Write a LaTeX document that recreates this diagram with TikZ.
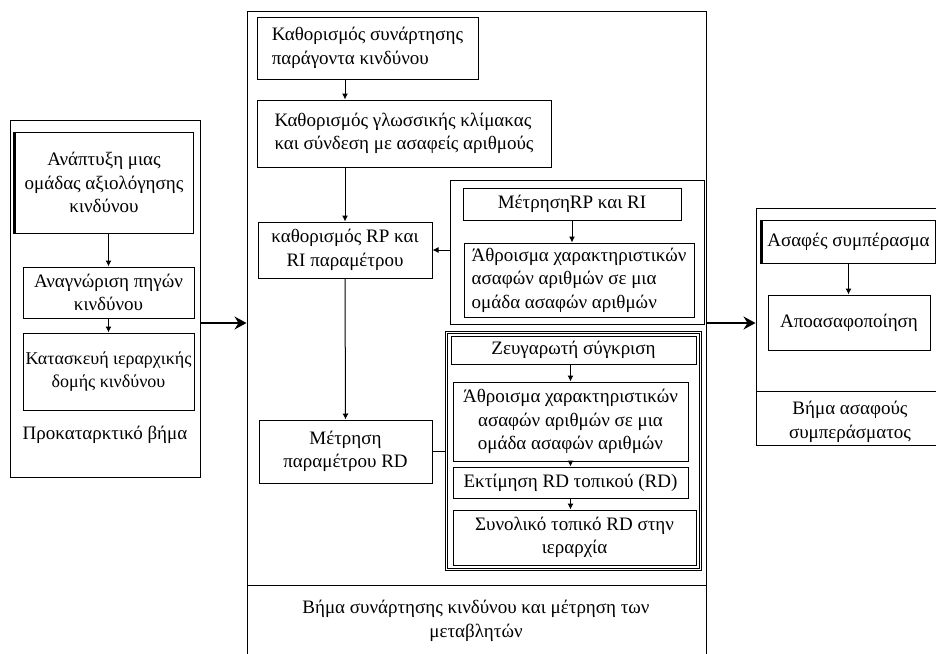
\documentclass[tikz,border=0pt]{standalone}
\usepackage{fontspec}
\setmainfont{Liberation Serif}
\usetikzlibrary{arrows.meta}

\tikzset{
  txt/.style={font=\fontsize{19}{23.5}\selectfont, inner sep=0pt, align=center},
  box/.style={txt, draw, line width=1pt},
  frame/.style={draw, line width=1pt, inner sep=0pt},
  arr/.style={line width=1pt, -{Latex[length=6pt,width=6pt]}},
  link/.style={line width=1pt},
  bigarr/.style={line width=1.8pt, -{Stealth[length=12pt,width=13pt,inset=4pt]}},
}

\begin{document}
\begin{tikzpicture}[x=1pt,y=-1pt]
\useasboundingbox[fill=white] (0,0) rectangle (936,653);

% ---- preliminary step ----
\node[frame, minimum width=190pt, minimum height=357pt] (L) at (105,298.5) {};
\node[box, minimum width=178pt, minimum height=101pt] (a1) at (104,182.5)
  {Ανάπτυξη μιας\\ομάδας αξιολόγησης\\κινδύνου};
\draw[line width=2.5pt] (a1.north west) -- (a1.south west);
\node[box, minimum width=171pt, minimum height=51pt] (a2) at (108.5,292.5)
  {Αναγνώριση πηγών\\κινδύνου};
\node[box, font=\fontsize{18}{23.5}\selectfont, minimum width=171pt, minimum height=77pt] (a3) at (108.5,371.5)
  {Κατασκευή ιεραρχικής\\δομής κινδύνου};
\node[txt] (Llab) at (105,435) {Προκαταρκτικό βήμα};
\draw[arr] (a1.south -| a2) -- (a2.north);
\draw[arr] (a2.south) -- (a3.north);

% ---- risk function and measurement step ----
\node[frame, minimum width=459pt, minimum height=649pt] (M) at (476.5,335.5) {};
\coordinate (Mdiv) at (247,585);
\draw[link] (Mdiv) -- (Mdiv -| M.east);
\node[txt] (Mlab) at (476,621) {Βήμα συνάρτησης κινδύνου και μέτρηση των\\μεταβλητών};

\node[box, align=left, minimum width=221pt, minimum height=62pt] (m1) at (367.5,48)
  {Καθορισμός συνάρτησης\\παράγοντα κινδύνου};
\node[box, align=left, minimum width=294pt, minimum height=67pt] (m2) at (404,133.5)
  {Καθορισμός γλωσσικής κλίμακας\\και σύνδεση με ασαφείς αριθμούς};
\node[box, minimum width=174pt, minimum height=56pt] (m3) at (345,250)
  {καθορισμός RP και\\RI παραμέτρου};
\node[box, minimum width=173pt, minimum height=63pt] (m4) at (345.5,451.5)
  {Μέτρηση\\παραμέτρου RD};

% RP / RI group
\node[frame, minimum width=254pt, minimum height=144pt] (G1) at (577,252) {};
\node[box, minimum width=218pt, minimum height=32pt] (r1) at (572,204)
  {ΜέτρησηRP και RI};
\node[box, align=left, minimum width=230pt, minimum height=74pt] (r2) at (579,280)
  {Άθροισμα χαρακτηριστικών\\ασαφών αριθμών σε μια\\ομάδα ασαφών αριθμών};

% RD group
\node[draw, double, double distance=1.6pt, line width=0.8pt, inner sep=0pt,
      minimum width=254pt, minimum height=237pt] (G2) at (573.5,451) {};
\node[box, minimum width=245pt, minimum height=28pt] (d1) at (573.5,350)
  {Ζευγαρωτή σύγκριση};
\node[box, minimum width=235pt, minimum height=79pt] (d2) at (570.5,421.5)
  {Άθροισμα χαρακτηριστικών\\ασαφών αριθμών σε μια\\ομάδα ασαφών αριθμών};
\node[box, minimum width=235pt, minimum height=31pt] (d3) at (570.5,482.5)
  {Εκτίμηση RD τοπικού (RD)};
\node[box, minimum width=243pt, minimum height=55pt] (d4) at (574.5,537.5)
  {Συνολικό τοπικό RD στην\\ιεραρχία};

\draw[arr] (m1.south -| m3) -- (m2.north -| m3);
\draw[arr] (m2.south -| m3) -- (m3.north);
\draw[arr] (m3.south) -- (m4.north);
\draw[arr] (r1.south) -- (r2.north -| r1.south);
\draw[arr] (G1.west |- m3) -- (m3.east);
\draw[link] (m4.east) -- (G2.west |- m4);
\draw[arr] (d1.south -| d2) -- (d2.north);
\draw[arr] (d2.south) -- (d3.north);
\draw[arr] (d3.south) -- (d4.north -| d3.south);

% ---- fuzzy inference step ----
\node[frame, minimum width=194pt, minimum height=237pt] (R) at (853,326.5) {};
\coordinate (Rdiv) at (756,391);
\draw[link] (Rdiv) -- (Rdiv -| R.east);
\node[box, minimum width=173pt, minimum height=43pt] (s1) at (848.5,241.5)
  {Ασαφές συμπέρασμα};
\draw[line width=2.5pt] (s1.north west) -- (s1.south west);
\node[box, align=left, minimum width=162pt, minimum height=55pt] (s2) at (849,322.5)
  {Αποασαφοποίηση};
\node[txt] (Rlab) at (850,422) {Βήμα ασαφούς\\συμπεράσματος};
\draw[arr] (s1.south) -- (s2.north -| s1.south);

% ---- links between steps ----
\draw[bigarr] ([yshift=-24.5pt]L.east) coordinate (t1) -- (t1 -| M.west);
\draw[bigarr] (M.east |- t1) -- (R.west |- t1);
\end{tikzpicture}
\end{document}
